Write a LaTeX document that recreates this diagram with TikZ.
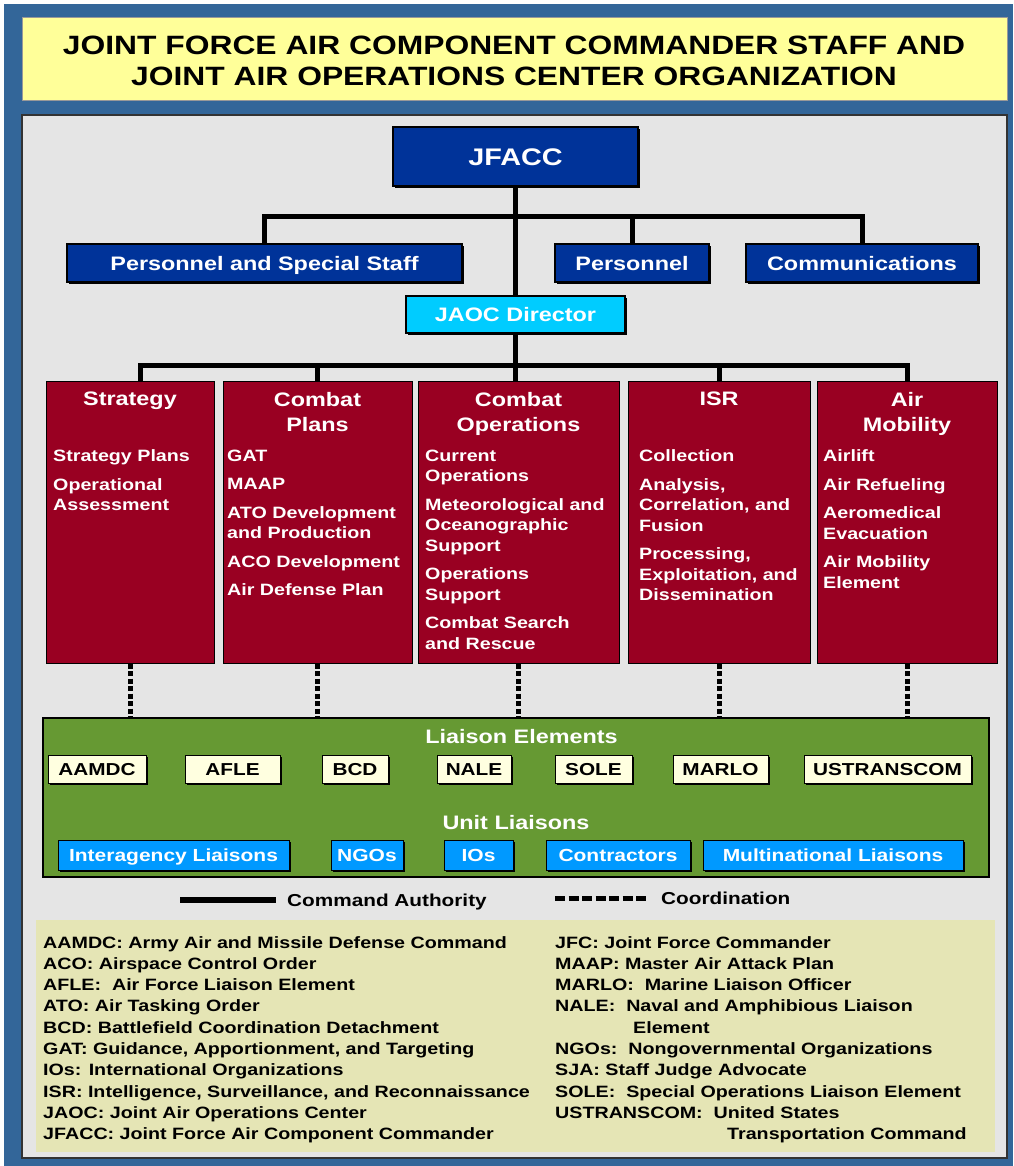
\documentclass[tikz,border=0pt]{standalone}
\usepackage{fontspec}
\setmainfont{Liberation Sans}[FakeStretch=1.2]
\usepackage{tikz}
\usetikzlibrary{shadows}
\definecolor{frameC}{RGB}{51,102,153}
\definecolor{titleC}{RGB}{255,255,153}
\definecolor{panelC}{RGB}{229,229,229}
\definecolor{navyC}{RGB}{0,51,153}
\definecolor{cyanC}{RGB}{0,204,255}
\definecolor{maroonC}{RGB}{153,0,34}
\definecolor{greenC}{RGB}{102,153,51}
\definecolor{creamC}{RGB}{255,255,224}
\definecolor{skyC}{RGB}{0,153,255}
\definecolor{legendC}{RGB}{229,229,181}
\newcommand{\setfs}[2]{\fontsize{#1}{#2}\selectfont}

\begin{document}
\begin{tikzpicture}[x=1pt,y=-1pt,
  cmdline/.style={line width=5pt},
  coordline/.style={line width=5pt,dash pattern=on 5pt off 2.5pt},
  shadowed/.style={drop shadow={shadow xshift=2pt,shadow yshift=-2pt,fill=black,opacity=1}},
  staffbox/.style={shadowed,draw=black,line width=1.2pt,fill=navyC,text=white,
    font=\bfseries\setfs{19.5}{23},inner sep=0pt,minimum height=38pt,
    text height=14pt,text depth=0pt},
  deptbox/.style={draw=black,line width=1pt,fill=maroonC,minimum height=282pt,inner sep=0pt},
  depthead/.style={anchor=north,align=center,inner sep=0pt,text=white,font=\bfseries\setfs{19.5}{25}},
  deptitems/.style={anchor=north west,align=left,inner sep=0pt,text=white,font=\bfseries\setfs{16.4}{20.5}},
  lebox/.style={shadowed,draw=black,line width=1pt,fill=creamC,font=\bfseries\setfs{17.3}{20},
    inner sep=0pt,minimum height=28pt,text height=12.4pt,text depth=0pt},
  ulbox/.style={shadowed,draw=black,line width=1pt,fill=skyC,text=white,font=\bfseries\setfs{17.5}{20},
    inner sep=0pt,minimum height=30pt,text height=12.5pt,text depth=0pt},
  grouphead/.style={inner sep=0pt,text=white,font=\bfseries\setfs{19.5}{23},text height=14pt,text depth=0pt},
  keytext/.style={anchor=west,inner sep=0pt,font=\bfseries\setfs{17.3}{20},text height=12.4pt,text depth=0pt},
  legtext/.style={anchor=north west,align=left,inner sep=0pt,font=\bfseries\setfs{16.4}{21.3}}]
  % Page and frame
  \fill[white] (0,0) rectangle (1013,1166);
  \useasboundingbox (0,0) rectangle (1013,1166);
  \fill[frameC] (4,4) rectangle (1013,1166);

  % Title
  \fill[titleC,draw=black!40,line width=0.6pt] (22,17) rectangle (1007,100);
  \node[align=center,inner sep=0pt,font=\bfseries\setfs{26.5}{31}] (title) at (514,60.5)
    {JOINT FORCE AIR COMPONENT COMMANDER STAFF AND\\JOINT AIR OPERATIONS CENTER ORGANIZATION};

  % Inner panel
  \fill[panelC,draw=black!80,line width=1.2pt] (22,115) rectangle (1007,1158);

  % Command level
  \node[staffbox,minimum width=245pt,minimum height=59pt,font=\bfseries\setfs{24}{28},text height=17.2pt]
    (jfacc) at (515.5,156.5) {JFACC};
  \node[staffbox,minimum width=395pt] (psstaff) at (264.5,263) {Personnel and Special Staff};
  \node[staffbox,minimum width=154pt] (pers) at (632,263) {Personnel};
  \node[staffbox,minimum width=232pt] (comm) at (862,263) {Communications};
  \node[staffbox,fill=cyanC,minimum width=219pt,minimum height=37pt] (jaoc) at (515.5,314.5) {JAOC Director};

  \coordinate (topbar) at (515.5,217);
  \coordinate (lowbar) at (515.5,365);
  \draw[cmdline] (jfacc.south) -- (jaoc.north);
  \draw[cmdline] (psstaff.north) |- (topbar) -| (comm.north);
  \draw[cmdline] (pers.north) -- (pers.north |- topbar);

  % Divisions
  \node[deptbox,minimum width=168pt] (strat) at (130,522) {};
  \node[deptbox,minimum width=189pt] (cplans) at (317.5,522) {};
  \node[deptbox,minimum width=201pt] (cops) at (518.5,522) {};
  \node[deptbox,minimum width=182pt] (isr) at (719,522) {};
  \node[deptbox,minimum width=180pt] (airmob) at (907,522) {};

  \draw[cmdline] ([xshift=10pt]strat.north) |- (lowbar) -| (airmob.north);
  \draw[cmdline] (jaoc.south) -- (jaoc.south |- cops.north);
  \draw[cmdline] (cplans.north) -- (cplans.north |- lowbar);
  \draw[cmdline] (isr.north) -- (isr.north |- lowbar);

  \node[depthead] (strathead) at (130,392) {Strategy};
  \node[depthead] (cplanshead) at (317.5,392) {Combat\\Plans};
  \node[depthead] (copshead) at (518.5,392) {Combat\\Operations};
  \node[depthead] (isrhead) at (719,392) {ISR};
  \node[depthead] (airmobhead) at (907,392) {Air\\Mobility};

  \node[deptitems] (stratitems) at (53,449.5)
    {Strategy Plans\\[8pt]Operational\\Assessment};
  \node[deptitems] (cplansitems) at (227,449.5)
    {GAT\\[8pt]MAAP\\[8pt]ATO Development\\and Production\\[8pt]ACO Development\\[8pt]Air Defense Plan};
  \node[deptitems] (copsitems) at (425,449.5)
    {Current\\Operations\\[8pt]Meteorological and\\Oceanographic\\Support\\[8pt]Operations\\Support\\[8pt]Combat Search\\and Rescue};
  \node[deptitems] (isritems) at (639,449.5)
    {Collection\\[8pt]Analysis,\\Correlation, and\\Fusion\\[8pt]Processing,\\Exploitation, and\\Dissemination};
  \node[deptitems] (airmobitems) at (823,449.5)
    {Airlift\\[8pt]Air Refueling\\[8pt]Aeromedical\\Evacuation\\[8pt]Air Mobility\\Element};

  % Liaisons
  \node[draw=black,line width=1.5pt,fill=greenC,minimum width=946pt,minimum height=159pt,inner sep=0pt]
    (liaison) at (516,797.5) {};
  \draw[coordline] (strat.south) -- (strat.south |- liaison.north);
  \draw[coordline] (cplans.south) -- (cplans.south |- liaison.north);
  \draw[coordline] (cops.south) -- (cops.south |- liaison.north);
  \draw[coordline] (isr.south) -- (isr.south |- liaison.north);
  \draw[coordline] (airmob.south) -- (airmob.south |- liaison.north);

  \node[grouphead] (lehead) at (521.5,736) {Liaison Elements};
  \node[lebox,minimum width=98pt] (aamdc) at (97,769) {AAMDC};
  \node[lebox,minimum width=95pt] (afle) at (232.5,769) {AFLE};
  \node[lebox,minimum width=66pt] (bcd) at (355,769) {BCD};
  \node[lebox,minimum width=74pt] (nale) at (474,769) {NALE};
  \node[lebox,minimum width=77pt] (sole) at (593.5,769) {SOLE};
  \node[lebox,minimum width=95pt] (marlo) at (720.5,769) {MARLO};
  \node[lebox,minimum width=167pt] (ustc) at (887.5,769) {USTRANSCOM};

  \node[grouphead] (ulhead) at (516,822) {Unit Liaisons};
  \node[ulbox,minimum width=231pt] (interag) at (173.5,855) {Interagency Liaisons};
  \node[ulbox,minimum width=72pt] (ngos) at (367,855) {NGOs};
  \node[ulbox,minimum width=69pt] (ios) at (478.5,855) {IOs};
  \node[ulbox,minimum width=144pt] (contr) at (618,855) {Contractors};
  \node[ulbox,minimum width=260pt] (multi) at (833,855) {Multinational Liaisons};

  % Key
  \coordinate (solidA) at (180,900);
  \coordinate (solidB) at (276,900);
  \draw[line width=6pt] (solidA) -- (solidB);
  \node[keytext] (cmdkey) at (287,900) {Command Authority};
  \coordinate (dashA) at (555,898);
  \coordinate (dashB) at (647,898);
  \draw[line width=5pt,dash pattern=on 10pt off 3.5pt] (dashA) -- (dashB);
  \node[keytext] (coordkey) at (661,898) {Coordination};

  % Acronyms
  \fill[legendC] (36,920) rectangle (995,1152);
  \node[legtext] (legleft) at (43,936)
    {AAMDC: Army Air and Missile Defense Command\\
     ACO: Airspace Control Order\\
     AFLE:\ \ Air Force Liaison Element\\
     ATO: Air Tasking Order\\
     BCD: Battlefield Coordination Detachment\\
     GAT: Guidance, Apportionment, and Targeting\\
     IOs: International Organizations\\
     ISR: Intelligence, Surveillance, and Reconnaissance\\
     JAOC: Joint Air Operations Center\\
     JFACC: Joint Force Air Component Commander};
  \node[legtext] (legright) at (555,936)
    {JFC: Joint Force Commander\\
     MAAP: Master Air Attack Plan\\
     MARLO:\ \ Marine Liaison Officer\\
     NALE:\ \ Naval and Amphibious Liaison\\
     \hspace*{78pt}Element\\
     NGOs:\ \ Nongovernmental Organizations\\
     SJA: Staff Judge Advocate\\
     SOLE:\ \ Special Operations Liaison Element\\
     USTRANSCOM:\ \ United States\\
     \hspace*{172pt}Transportation Command};
\end{tikzpicture}
\end{document}
